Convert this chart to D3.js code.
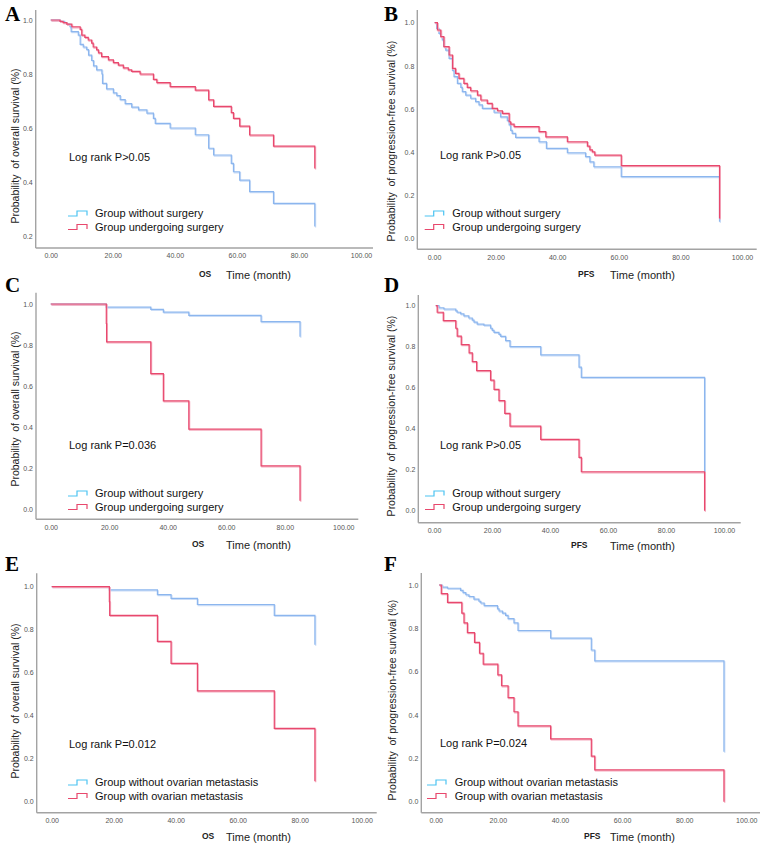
<!DOCTYPE html>
<html>
<head>
<meta charset="utf-8">
<script src="https://cdn.jsdelivr.net/npm/d3@7"></script>
<style>
  html, body { margin: 0; padding: 0; background: #fff; }
  svg { display: block; }
</style>
</head>
<body>
<svg id="chart" width="767" height="850"></svg>
<script>
// ---------------- DATA ----------------
const panelLetters = ["A", "B", "C", "D", "E", "F"];
const xTicks = [0, 20, 40, 60, 80, 100];
const xTickLabels = ["0.00", "20.00", "40.00", "60.00", "80.00", "100.00"];
const yTicksA = [0.2, 0.4, 0.6, 0.8, 1.0];
const yTicksFull = [0.0, 0.2, 0.4, 0.6, 0.8, 1.0];
const endpointLabels = ["OS", "PFS", "OS", "PFS", "OS", "PFS"];
const timeLabel = "Time (month)";
const yTitles = [
  "Probability  of overall survival (%)",
  "Probability  of progression-free survival (%)",
  "Probability  of overall survival (%)",
  "Probability  of progression-free survival (%)",
  "Probability  of overall survival (%)",
  "Probability  of progression-free survival (%)"
];
const pTexts = ["Log rank P>0.05", "Log rank P>0.05", "Log rank P=0.036", "Log rank P>0.05", "Log rank P=0.012", "Log rank P=0.024"];
const legendSurgery = ["Group without surgery", "Group undergoing surgery"];
const legendOvarian = ["Group without ovarian metastasis", "Group with ovarian metastasis"];

// survival curves: [time (month), survival probability]
const blueA = [[0,1.0],[3,0.995],[4.5,0.99],[5.2,0.985],[6.2,0.975],[6.6,0.957],[8.9,0.944],[9.5,0.91],[10.5,0.9],[11.6,0.89],[12.2,0.87],[13.2,0.85],[13.8,0.83],[14.8,0.815],[16.5,0.8],[16.7,0.765],[18,0.745],[20.2,0.73],[21.3,0.72],[22.4,0.705],[24,0.69],[26.1,0.677],[28.3,0.667],[31,0.655],[33.1,0.636],[33.7,0.617],[38.5,0.6],[46.6,0.575],[50.9,0.525],[52.5,0.5],[58.2,0.469],[58.9,0.438],[60.9,0.407],[64.1,0.364],[71.8,0.321],[85.1,0.235]];
const redA = [[0,1.0],[3,0.995],[4,0.99],[5.2,0.985],[6.8,0.975],[9.5,0.965],[10,0.944],[11,0.936],[12.1,0.926],[13.2,0.914],[13.7,0.9],[14.8,0.889],[15.4,0.878],[16.4,0.864],[18.6,0.852],[20.2,0.842],[21.8,0.833],[23.4,0.823],[25,0.815],[26.1,0.81],[28.8,0.8],[33.1,0.78],[34.2,0.768],[38.5,0.753],[46.6,0.74],[50.9,0.704],[52.5,0.68],[58.2,0.657],[58.9,0.636],[60.9,0.607],[64.1,0.574],[71.8,0.533],[85.1,0.45]];
const blueB = [[0.2,1.0],[0.9,0.974],[1.6,0.95],[2.2,0.935],[2.7,0.92],[3.2,0.889],[3.8,0.873],[4.9,0.834],[6.0,0.779],[6.5,0.75],[7.6,0.718],[8.7,0.7],[9.2,0.68],[10.3,0.664],[11.9,0.649],[13.5,0.633],[14.6,0.618],[15.7,0.602],[19.5,0.584],[21.6,0.563],[23.8,0.545],[24.4,0.525],[24.9,0.5],[25.4,0.486],[26.5,0.467],[34.1,0.447],[36.5,0.416],[43.3,0.396],[49.2,0.378],[50.6,0.354],[51.9,0.331],[60.8,0.285],[92.7,0.076]];
const redB = [[0.2,1.0],[1.1,0.966],[2.2,0.935],[3.2,0.889],[4.9,0.85],[6.0,0.788],[7.0,0.765],[8.1,0.741],[9.7,0.718],[10.8,0.7],[11.9,0.684],[14.1,0.664],[15.2,0.641],[17.3,0.625],[18.9,0.602],[20.6,0.591],[22.2,0.579],[24.4,0.54],[24.9,0.529],[26,0.517],[34.1,0.494],[36.3,0.47],[43.3,0.447],[49.8,0.427],[50.6,0.409],[51.4,0.4],[52.2,0.385],[60.8,0.336],[92.7,0.09]];
const blueC = [[0,1.0],[19,0.985],[34.2,0.974],[38.5,0.96],[47.2,0.945],[71.9,0.914],[85.2,0.84]];
const redC = [[0,1.0],[19,0.905],[19.1,0.815],[34.2,0.66],[38.5,0.527],[47.2,0.39],[71.9,0.21],[85.2,0.04]];
const blueD = [[0.6,1.0],[1.7,0.99],[3.4,0.984],[7.5,0.975],[8,0.968],[9.2,0.96],[10.3,0.95],[12,0.94],[13.2,0.93],[13.8,0.92],[14.9,0.91],[17.2,0.905],[19.5,0.89],[20.1,0.88],[20.7,0.87],[22.4,0.86],[23,0.85],[24.7,0.83],[26.2,0.8],[36.8,0.76],[50,0.7],[50.8,0.65],[93.3,0.17]];
const redD = [[0.6,1.0],[1.1,0.968],[3.2,0.927],[7.5,0.89],[8.0,0.852],[9.4,0.81],[12.1,0.77],[13.2,0.727],[14.7,0.683],[19.5,0.637],[20.7,0.592],[22.4,0.537],[24.4,0.475],[26.2,0.413],[36.8,0.348],[50,0.26],[50.8,0.19],[93.3,0.0]];
const blueE = [[0,1.0],[18.6,0.985],[34.1,0.963],[38.5,0.946],[47,0.917],[71.8,0.866],[84.9,0.73]];
const redE = [[0,1.0],[18.6,0.93],[18.7,0.866],[34.1,0.745],[38.5,0.643],[47,0.515],[71.8,0.34],[84.9,0.093]];
const blueF = [[1.1,1.0],[2.1,0.99],[3.8,0.985],[8,0.975],[8.8,0.965],[9.7,0.955],[10.7,0.947],[12.3,0.935],[13.9,0.925],[14.5,0.917],[15.6,0.905],[19.9,0.89],[20.4,0.88],[21.5,0.87],[22.5,0.86],[23.3,0.845],[25.2,0.825],[26.5,0.79],[37,0.755],[50.1,0.7],[51.2,0.65],[92.8,0.23]];
const redF = [[1.1,1.0],[1.8,0.96],[3.8,0.92],[8.4,0.87],[9.1,0.825],[10.2,0.78],[12.5,0.735],[14.1,0.685],[15.3,0.635],[20,0.585],[21.2,0.535],[23.3,0.48],[25.2,0.415],[26.5,0.35],[37,0.29],[50.1,0.21],[51.2,0.147],[92.8,0.0]];

// ---------------- LAYOUT ----------------
const COL_BLUE = "#8cb6ee", COL_BLUE_L = "#c9dcf7";
const COL_RED = "#e8486d", COL_RED_L = "#f5aabd";
const LEG_BLUE = "#4cc4f2", LEG_RED = "#e8486d";

const panels = [
  { blue: blueA, red: redA, yTicks: yTicksA, legend: legendSurgery,
    axX: 35.7, axY: 248, top: 10, right: 373, x0: 50.7, x100: 361, yv0: 0.2, yp0: 236, yp1: 20,
    letter: [5, 21], ylab: [15, 146], ep: 199, time: 226, tb: 279, pt: [69, 161], leg: [68, 95, 217] },
  { blue: blueB, red: redB, yTicks: yTicksFull, legend: legendSurgery,
    axX: 417.3, axY: 249.3, top: 10, right: 756.7, x0: 434, x100: 742, yv0: 0, yp0: 238, yp1: 22.7,
    letter: [384, 21], ylab: [391, 141], ep: 384 + 194, time: 384 + 226, tb: 279, pt: [440, 159], leg: [384 + 40.7, 384 + 68.3, 217] },
  { blue: blueC, red: redC, yTicks: yTicksFull, legend: legendSurgery,
    axX: 36, axY: 519.3, top: 292.7, right: 358.3, x0: 50.7, x100: 343.3, yv0: 0, yp0: 509, yp1: 304,
    letter: [5, 292], ylab: [15, 409], ep: 192, time: 226, tb: 549, pt: [69, 449], leg: [68, 95, 497] },
  { blue: blueD, red: redD, yTicks: yTicksFull, legend: legendSurgery,
    axX: 418.3, axY: 522.7, top: 295, right: 740.7, x0: 434, x100: 724, yv0: 0, yp0: 510.7, yp1: 305.7,
    letter: [384, 292], ylab: [391, 416], ep: 384 + 187, time: 384 + 226, tb: 549.5, pt: [440, 449], leg: [384 + 41, 384 + 68.3, 497] },
  { blue: blueE, red: redE, yTicks: yTicksFull, legend: legendOvarian,
    axX: 36.7, axY: 812.7, top: 573.3, right: 376.7, x0: 51.7, x100: 361.7, yv0: 0, yp0: 801.3, yp1: 586.7,
    letter: [5, 571], ylab: [15, 701], ep: 202, time: 226, tb: 841, pt: [69, 748], leg: [68, 95, 786] },
  { blue: blueF, red: redF, yTicks: yTicksFull, legend: legendOvarian,
    axX: 421.3, axY: 812.7, top: 573, right: 760, x0: 435.7, x100: 746.3, yv0: 0, yp0: 801.7, yp1: 585,
    letter: [384, 571], ylab: [392, 700], ep: 384 + 200, time: 384 + 226, tb: 841, pt: [440, 747], leg: [384 + 43, 384 + 70.7, 786] }
];

const svg = d3.select("#chart");
svg.append("rect").attr("width", 767).attr("height", 850).attr("fill", "#fff");

const SANS = "'Liberation Sans', Arial, sans-serif";

panels.forEach((p, i) => {
  const g = svg.append("g");
  const x = d3.scaleLinear().domain([0, 100]).range([p.x0, p.x100]);
  const y = d3.scaleLinear().domain([p.yv0, 1.0]).range([p.yp0, p.yp1]);

  // axes lines (SPSS style, no tick marks)
  g.append("line").attr("x1", p.axX).attr("x2", p.axX).attr("y1", p.top).attr("y2", p.axY)
    .attr("stroke", "#a3a3a3").attr("stroke-width", 1.4);
  g.append("line").attr("x1", p.axX).attr("x2", p.right).attr("y1", p.axY).attr("y2", p.axY)
    .attr("stroke", "#a3a3a3").attr("stroke-width", 1.4);

  // x axis tick labels via d3 axis
  const xAxis = d3.axisBottom(x).tickValues(xTicks).tickSize(0).tickPadding(0)
    .tickFormat((d, k) => xTickLabels[k]);
  const gx = g.append("g").attr("transform", `translate(0,${p.axY + 4})`).call(xAxis);
  gx.select(".domain").remove();
  gx.selectAll("text").attr("font-family", SANS).attr("font-size", 7).attr("fill", "#555").attr("dy", "0.9em");

  const yAxis = d3.axisLeft(y).tickValues(p.yTicks).tickSize(0).tickPadding(0)
    .tickFormat(d3.format(".1f"));
  const gy = g.append("g").attr("transform", `translate(${p.axX - 3},0)`).call(yAxis);
  gy.select(".domain").remove();
  gy.selectAll("text").attr("font-family", SANS).attr("font-size", 7).attr("fill", "#555");

  // curves
  const line = d3.line().x(d => x(d[0])).y(d => y(d[1])).curve(d3.curveStepAfter);
  [[p.blue, COL_BLUE, COL_BLUE_L], [p.red, COL_RED, COL_RED_L]].forEach(([data, c, cl]) => {
    g.append("path").datum(data).attr("d", line).attr("fill", "none")
      .attr("stroke", cl).attr("stroke-width", 1.3).attr("transform", "translate(0.8,1)");
    g.append("path").datum(data).attr("d", line).attr("fill", "none")
      .attr("stroke", c).attr("stroke-width", 1.2);
  });

  // panel letter
  g.append("text").attr("x", p.letter[0]).attr("y", p.letter[1]).text(panelLetters[i])
    .attr("font-family", "'Liberation Serif', 'Times New Roman', serif").attr("font-weight", "bold")
    .attr("font-size", 21).attr("fill", "#000");

  // y title
  g.append("text").attr("transform", `translate(${p.ylab[0] + 4},${p.ylab[1]}) rotate(-90)`)
    .attr("text-anchor", "middle").attr("font-family", SANS).attr("font-size", 10.5).attr("fill", "#222")
    .attr("xml:space", "preserve").style("white-space", "pre").text(yTitles[i]);

  // x titles
  g.append("text").attr("x", p.ep).attr("y", p.tb - 2).text(endpointLabels[i])
    .attr("font-family", SANS).attr("font-weight", "bold").attr("font-size", 8.5).attr("fill", "#222");
  g.append("text").attr("x", p.time).attr("y", p.tb).text(timeLabel)
    .attr("font-family", SANS).attr("font-size", 11).attr("fill", "#222");

  // p-value
  g.append("text").attr("x", p.pt[0]).attr("y", p.pt[1]).text(pTexts[i])
    .attr("font-family", SANS).attr("font-size", 11).attr("fill", "#111");

  // legend
  [[LEG_BLUE, p.legend[0]], [LEG_RED, p.legend[1]]].forEach(([c, label], k) => {
    const by = p.leg[2] + k * 13.5;
    const sx = p.leg[0];
    g.append("path").attr("d", `M${sx},${by - 1} H${sx + 9} V${by - 6} H${sx + 19} V${by - 1.5}`)
      .attr("fill", "none").attr("stroke", c).attr("stroke-width", 1.2);
    g.append("text").attr("x", p.leg[1]).attr("y", by).text(label)
      .attr("font-family", SANS).attr("font-size", 11).attr("fill", "#111");
  });
});
</script>
</body>
</html>
